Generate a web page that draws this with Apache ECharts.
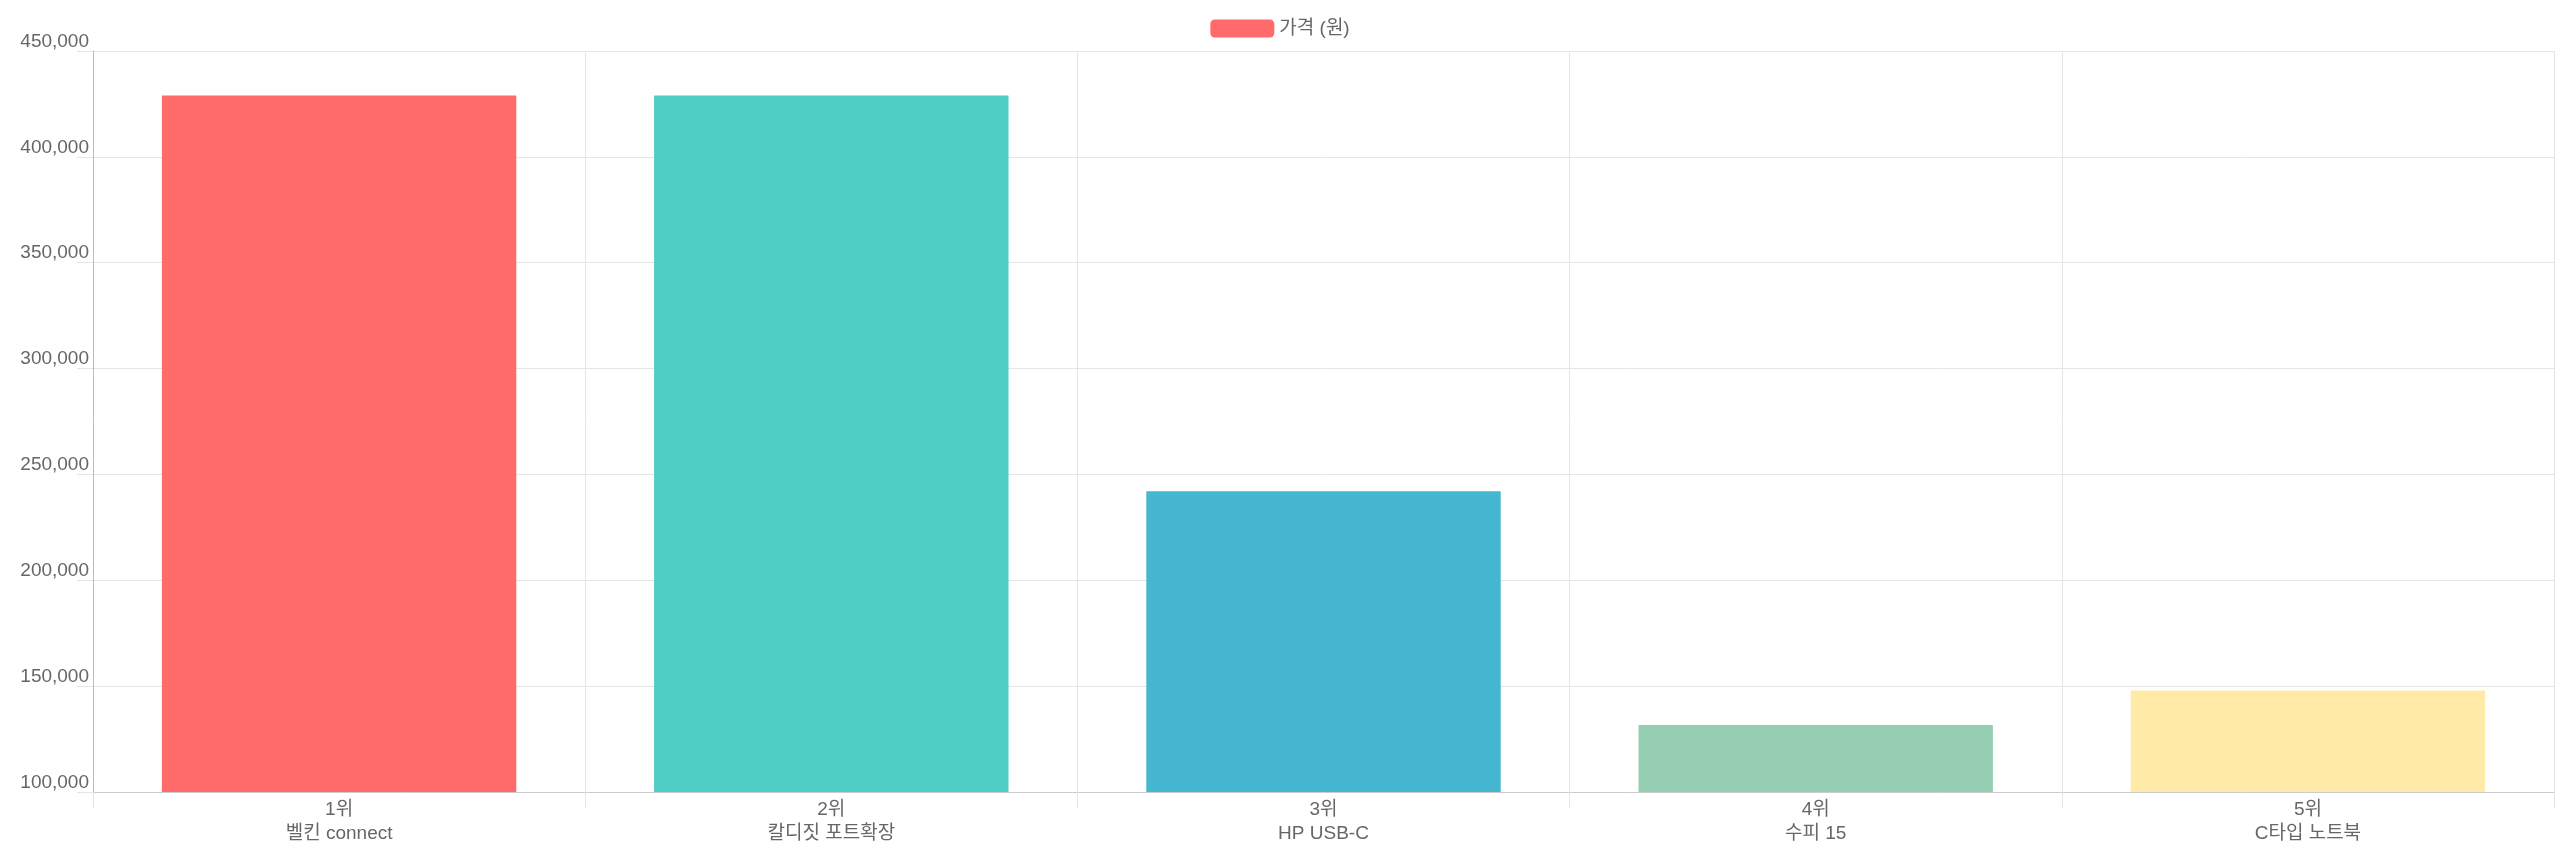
<!DOCTYPE html>
<html><head><meta charset="utf-8">
<script src="https://cdn.jsdelivr.net/npm/echarts@6/dist/echarts.min.js"></script>
<style>html,body{margin:0;padding:0;background:#fff}#c{width:2560px;height:864px}</style>
</head><body><div id="c"></div>
<script>
var categories=['1위\n벨킨 connect','2위\n칼디짓 포트확장','3위\nHP USB-C','4위\n수피 15','5위\nC타입 노트북'];
var prices=[429000,429000,242000,131600,148000];
var colors=['#FF6B6B','#4ECDC4','#45B7D1','#96CEB4','#FFEAA7'];
var yTicks=[100000,450000,50000];

var chart=echarts.init(document.getElementById('c'));
var font='"Liberation Sans", Arial, "Noto Sans CJK KR", sans-serif';
chart.setOption({
    animation:false,
    textStyle:{fontFamily:font},
    legend:{
        top:14,left:'center',
        itemWidth:64,itemHeight:18,itemGap:10,
        textStyle:{fontSize:19,color:'#666',fontFamily:font},
        data:[{name:'가격 (원)',itemStyle:{color:'#FF6B6B'}}]
    },
    grid:{left:93,right:6,top:51,bottom:72},
    xAxis:{
        type:'category',
        data:categories,
        axisLine:{lineStyle:{color:'#ccc'}},
        axisTick:{show:true,length:16,lineStyle:{color:'#e5e5e5'}},
        splitLine:{show:true,lineStyle:{color:'#e5e5e5'}},
        axisLabel:{fontSize:19,color:'#666',lineHeight:24,margin:6}
    },
    yAxis:{
        type:'value',
        min:yTicks[0],max:yTicks[1],interval:yTicks[2],
        axisLine:{show:true,lineStyle:{color:'#bbb'}},
        axisTick:{show:true,length:16,lineStyle:{color:'#e5e5e5'}},
        splitLine:{lineStyle:{color:'#e5e5e5'}},
        axisLabel:{fontSize:19,color:'#666',margin:4,verticalAlign:'bottom'}
    },
    series:[{
        name:'가격 (원)',type:'bar',
        barCategoryGap:'28%',
        data:prices.map(function(v,i){return {value:v,itemStyle:{color:colors[i]}};})
    }]
});
</script></body></html>
